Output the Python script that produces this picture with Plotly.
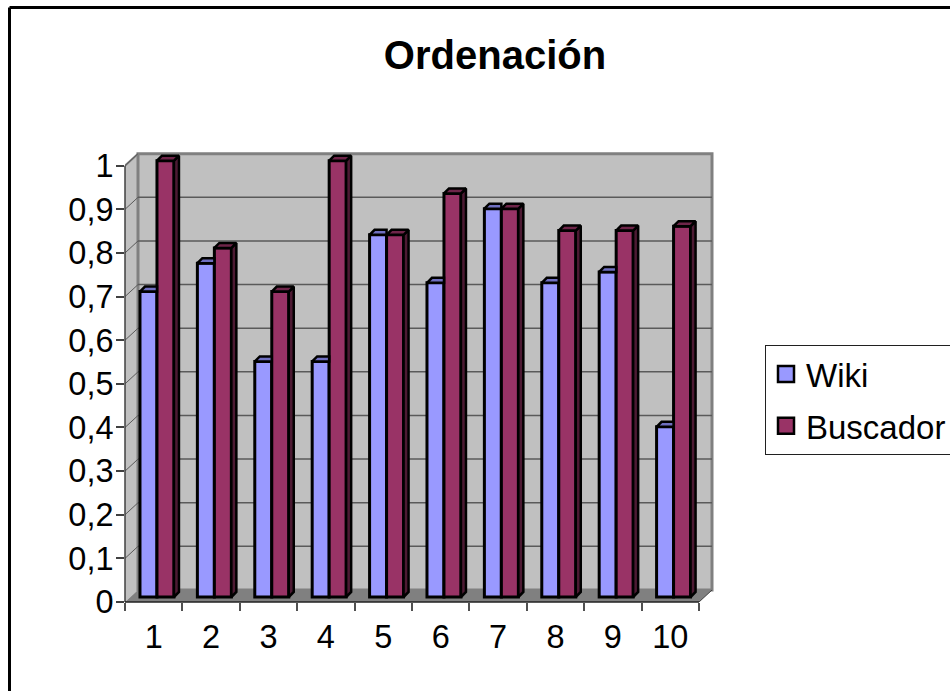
import plotly.graph_objects as go

categories = list(range(1, 11))
wiki = [0.70, 0.765, 0.54, 0.54, 0.83, 0.72, 0.89, 0.72, 0.745, 0.39]
buscador = [1.00, 0.80, 0.70, 1.00, 0.83, 0.925, 0.89, 0.84, 0.84, 0.85]
y_ticks = [0, 0.1, 0.2, 0.3, 0.4, 0.5, 0.6, 0.7, 0.8, 0.9, 1]
y_labels = ["0", "0,1", "0,2", "0,3", "0,4", "0,5", "0,6", "0,7", "0,8", "0,9", "1"]

FONT = "Liberation Sans"
W, H = 950, 691
PX_X, PX_Y = 57.4, 436.3          # pixels per data unit
L, B = 125, 602                   # pixel position of the axis origin
PR, PT = 715, 151                 # pixel right / top edge of the plot area
DEPTH_X, DEPTH_Y = 13 / PX_X, 12 / PX_Y   # wall depth in data units
BAR_DX, BAR_DY = 5 / PX_X, 5 / PX_Y       # bar depth in data units
X0 = 0.5
BAR_W = 0.296
OFF_W, OFF_B = -0.239, 0.057
BASE = 5 / PX_Y
X1 = X0 + (PR - L) / PX_X
Y1 = (B - PT) / PX_Y

WALL, FLOOR, EDGE, GRID = "#C0C0C0", "#808080", "#808080", "#5A5A5A"
BLUE, BLUE_TOP = "#9999FF", "#6F6FC0"
RED, RED_TOP, RED_SIDE = "#993366", "#6E2549", "#4D1A33"


def px(x):
    return (x - L) / (PR - L)


def py(y):
    return (B - y) / (B - PT)


def poly(points):
    return "M" + " L".join(f"{x},{y}" for x, y in points) + " Z"


def faces(shapes):
    xs, ys = [], []
    for s in shapes:
        xs += [p[0] for p in s] + [s[0][0], None]
        ys += [p[1] for p in s] + [s[0][1], None]
    return xs, ys


wx0, wx1 = X0 + DEPTH_X, X0 + 10 + DEPTH_X
shapes = [
    dict(type="path", layer="below", path=poly([(X0, 0), (wx0, DEPTH_Y), (wx0, 1 + DEPTH_Y), (X0, 1)]),
         fillcolor=WALL, line=dict(color=WALL, width=0)),
    dict(type="path", layer="below", path=poly([(wx0, DEPTH_Y), (wx1, DEPTH_Y), (wx1, 1 + DEPTH_Y), (wx0, 1 + DEPTH_Y)]),
         fillcolor=WALL, line=dict(color=EDGE, width=3)),
    dict(type="path", layer="below", path=poly([(X0, 0), (X0 + 10, 0), (wx1, DEPTH_Y), (wx0, DEPTH_Y)]),
         fillcolor=FLOOR, line=dict(color=FLOOR, width=0)),
    dict(type="line", layer="below", x0=X0, x1=wx0, y0=1, y1=1 + DEPTH_Y, line=dict(color=EDGE, width=2)),
    dict(type="line", layer="below", x0=X0 + 10, x1=wx1, y0=0, y1=DEPTH_Y, line=dict(color="#404040", width=1)),
]
for v in y_ticks[1:-1]:
    shapes.append(dict(type="line", layer="below", x0=wx0, x1=wx1, y0=v + DEPTH_Y, y1=v + DEPTH_Y,
                       line=dict(color=GRID, width=1.5)))
for v in y_ticks[1:]:
    shapes.append(dict(type="line", layer="below", x0=X0, x1=wx0, y0=v, y1=v + DEPTH_Y,
                       line=dict(color=GRID, width=1)))
# axis lines
shapes.append(dict(type="line", xref="paper", yref="y", x0=0, x1=0, y0=0, y1=1,
                   line=dict(color="#404040", width=1.5)))
shapes.append(dict(type="line", xref="x", yref="paper", x0=X0, x1=X0 + 10, y0=0, y1=0,
                   line=dict(color="#202020", width=1.5)))
# outer chart frame
shapes.append(dict(type="line", xref="paper", yref="paper", x0=px(9.5), x1=px(W + 5), y0=py(7.5), y1=py(7.5),
                   line=dict(color="black", width=3)))
shapes.append(dict(type="line", xref="paper", yref="paper", x0=px(9.5), x1=px(9.5), y0=py(7.5), y1=py(H + 5),
                   line=dict(color="black", width=3)))

fig = go.Figure()

fig.add_bar(x=categories, y=wiki, base=BASE, offset=OFF_W, width=BAR_W, showlegend=False,
            marker=dict(color=BLUE, line=dict(color="black", width=3)), hoverinfo="skip")
fig.add_bar(x=categories, y=buscador, base=BASE, offset=OFF_B, width=BAR_W, showlegend=False,
            marker=dict(color=RED, line=dict(color="black", width=3)), hoverinfo="skip")

# 3-D faces, derived from the same data values
w_top = [[(c + OFF_W, v + BASE), (c + OFF_W + BAR_DX, v + BASE + BAR_DY),
          (c + OFF_B, v + BASE + BAR_DY), (c + OFF_B, v + BASE)]
         for c, v in zip(categories, wiki)]
b_top = [[(c + OFF_B, v + BASE), (c + OFF_B + BAR_DX, v + BASE + BAR_DY),
          (c + OFF_B + BAR_W + BAR_DX, v + BASE + BAR_DY), (c + OFF_B + BAR_W, v + BASE)]
         for c, v in zip(categories, buscador)]
b_side = [[(c + OFF_B + BAR_W, BASE), (c + OFF_B + BAR_W + BAR_DX, BASE + BAR_DY),
           (c + OFF_B + BAR_W + BAR_DX, v + BASE + BAR_DY), (c + OFF_B + BAR_W, v + BASE)]
          for c, v in zip(categories, buscador)]
for pts, col in [(w_top, BLUE_TOP), (b_side, RED_SIDE), (b_top, RED_TOP)]:
    xs, ys = faces(pts)
    fig.add_scatter(x=xs, y=ys, mode="lines", fill="toself", fillcolor=col,
                    line=dict(color="black", width=2.5), showlegend=False, hoverinfo="skip")

# legend entries
for name, col in [("Wiki", BLUE), ("Buscador", RED)]:
    fig.add_scatter(x=[None], y=[None], mode="markers", name=name, legendgroup=name,
                    marker=dict(symbol="square", size=17, color=col, line=dict(color="black", width=2.5)))

fig.update_layout(
    width=W, height=H,
    margin=dict(l=L, r=W - PR, t=PT, b=H - B, autoexpand=False),
    paper_bgcolor="white", plot_bgcolor="rgba(0,0,0,0)",
    font=dict(family=FONT, size=32.5, color="black"),
    title=dict(text="<b>Ordenación</b>", font=dict(family=FONT, size=40, color="black"),
               x=495 / W, xanchor="center", y=1 - 55 / H, yanchor="middle"),
    barmode="overlay",
    xaxis=dict(range=[X0, X1], tickmode="array", tickvals=categories, ticktext=[str(c) for c in categories],
               ticks="outside", ticklen=8, tickcolor="rgba(0,0,0,0)", ticklabelstandoff=-2,
               showgrid=False, zeroline=False, showline=False,
               minor=dict(tickmode="array", tickvals=[X0 + i for i in range(11)], ticks="outside",
                          ticklen=8, tickcolor="#505050", tickwidth=1.5, showgrid=False)),
    yaxis=dict(range=[0, Y1], tickmode="array", tickvals=y_ticks, ticktext=y_labels,
               ticks="outside", ticklen=8, tickcolor="#404040", tickwidth=1.5, ticklabelstandoff=-4,
               showgrid=False, zeroline=False, showline=False),
    shapes=shapes,
    legend=dict(x=px(765), xanchor="left", y=py(345), yanchor="top",
                bgcolor="white", bordercolor="#202020", borderwidth=1,
                font=dict(family=FONT, size=33), tracegroupgap=6, itemsizing="trace"),
)
fig.write_html("out.html", config=dict(displayModeBar=False),
               post_script="document.body.style.margin='0';document.body.style.overflow='hidden';")
